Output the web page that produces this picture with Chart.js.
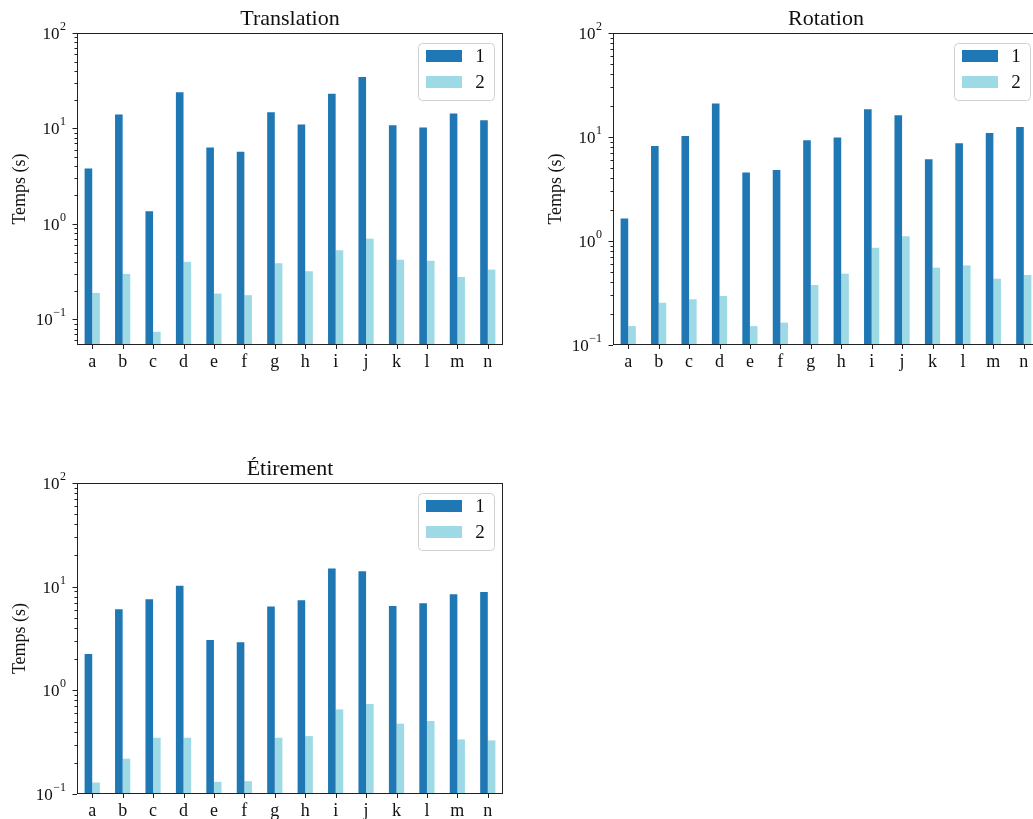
<!DOCTYPE html>
<html>
<head>
<meta charset="utf-8">
<script src="https://cdn.jsdelivr.net/npm/chart.js@4.4.1/dist/chart.umd.min.js"></script>
<style>
    html, body { margin: 0; padding: 0; background: #fff; overflow: hidden; }
    body { width: 1033px; height: 819px; position: relative; }
    .panel { position: absolute; width: 520px; height: 380px; }
</style>
</head>
<body>
<div class="panel" style="left:0;top:0"><canvas id="translationChart"></canvas></div>
<div class="panel" style="left:530px;top:0"><canvas id="rotationChart"></canvas></div>
<div class="panel" style="left:0;top:450px"><canvas id="etirementChart"></canvas></div>

<script>
// Data
const categories = ['a', 'b', 'c', 'd', 'e', 'f', 'g', 'h', 'i', 'j', 'k', 'l', 'm', 'n'];
const seriesLabels = ['1', '2'];
const seriesColors = ['#1f77b4', '#9edae5'];

const translation1 = [3.8, 14.0, 1.36, 24.0, 6.3, 5.7, 14.8, 11.0, 23.1, 34.5, 10.8, 10.2, 14.3, 12.2];
const translation2 = [0.189, 0.299, 0.074, 0.40, 0.186, 0.179, 0.387, 0.319, 0.53, 0.70, 0.42, 0.41, 0.278, 0.332];

const rotation1 = [1.65, 8.2, 10.2, 21.0, 4.55, 4.82, 9.3, 9.9, 18.5, 16.2, 6.1, 8.7, 10.9, 12.5];
const rotation2 = [0.152, 0.255, 0.275, 0.296, 0.152, 0.164, 0.377, 0.485, 0.86, 1.11, 0.554, 0.583, 0.434, 0.471];

const etirement1 = [2.24, 6.05, 7.56, 10.2, 3.06, 2.91, 6.43, 7.4, 14.96, 14.1, 6.52, 6.92, 8.45, 8.9];
const etirement2 = [0.129, 0.219, 0.349, 0.349, 0.131, 0.133, 0.349, 0.362, 0.655, 0.738, 0.477, 0.506, 0.336, 0.329];

// Log axis ticks: 10^exp
const yTickValues = [0.1, 1, 10, 100];
const yTickExponents = ['−1', '0', '1', '2'];
const minorSteps = [2, 3, 4, 5, 6, 7, 8, 9];

const serif = '"Liberation Serif", "Times New Roman", serif';
Chart.defaults.font.family = serif;
Chart.defaults.color = '#111';

// frame, tick marks, 10^n labels, title and in-plot legend (matplotlib look)
const framePlugin = {
    id: 'frame',
    afterDraw(chart, args, opts) {
        const { ctx, chartArea: a } = chart;
        const x = chart.scales.x, y = chart.scales.y;
        ctx.save();
        ctx.strokeStyle = '#222';
        ctx.lineWidth = 1;
        ctx.strokeRect(Math.round(a.left) + 0.5, Math.round(a.top) + 0.5,
            Math.round(a.width) - 1, Math.round(a.height) - 1);

        ctx.beginPath();
        y.ticks.forEach(t => {
            const py = Math.round(y.getPixelForValue(t.value)) + 0.5;
            const len = yTickValues.includes(t.value) ? 4.5 : 2.5;
            ctx.moveTo(a.left, py);
            ctx.lineTo(a.left - len, py);
        });
        categories.forEach((c, i) => {
            const px = Math.round(x.getPixelForValue(i)) + 0.5;
            ctx.moveTo(px, a.bottom);
            ctx.lineTo(px, a.bottom + 4);
        });
        ctx.stroke();

        // decade labels with raised exponent
        ctx.fillStyle = '#111';
        ctx.textBaseline = 'alphabetic';
        yTickValues.forEach((v, k) => {
            if (v < y.min || v > y.max) return;
            const py = y.getPixelForValue(v);
            const right = a.left - 11;
            ctx.font = '12px ' + serif;
            const we = ctx.measureText(yTickExponents[k]).width;
            ctx.textAlign = 'left';
            ctx.fillText(yTickExponents[k], right - we, py - 3);
            ctx.font = '17px ' + serif;
            ctx.textAlign = 'right';
            ctx.fillText('10', right - we - 0.5, py + 6);
        });

        // title centred over the axes
        ctx.font = '22px ' + serif;
        ctx.textAlign = 'center';
        ctx.textBaseline = 'middle';
        ctx.fillText(opts.text, (a.left + a.right) / 2, 19);

        // legend box, upper right
        const bx = a.right - 85, by = a.top + 10, bw = 76, bh = 57;
        ctx.fillStyle = 'rgba(255,255,255,0.8)';
        ctx.strokeStyle = '#d0d0d0';
        ctx.beginPath();
        ctx.roundRect(bx + 0.5, by + 0.5, bw, bh, 4);
        ctx.fill();
        ctx.stroke();
        ctx.font = '19px ' + serif;
        chart.data.datasets.forEach((ds, i) => {
            const sy = by + 7 + i * 26;
            ctx.fillStyle = ds.backgroundColor;
            ctx.fillRect(bx + 8, sy, 36, 12);
            ctx.fillStyle = '#111';
            ctx.fillText(ds.label, bx + 62, sy + 7);
        });
        ctx.restore();
    }
};

function makeChart(id, title, s1, s2, yMin, yWidth, yTitlePad, rightPad, xHeight) {
    const ctx = document.getElementById(id).getContext('2d');
    return new Chart(ctx, {
        type: 'bar',
        data: {
            labels: categories,
            datasets: [
                { label: seriesLabels[0], data: s1, backgroundColor: seriesColors[0], borderWidth: 0 },
                { label: seriesLabels[1], data: s2, backgroundColor: seriesColors[1], borderWidth: 0 }
            ]
        },
        options: {
            responsive: true,
            maintainAspectRatio: false,
            animation: false,
            categoryPercentage: 0.5,
            barPercentage: 1.0,
            layout: { padding: { left: 0, right: rightPad, top: 33, bottom: 0 } },
            plugins: {
                legend: { display: false },
                tooltip: { enabled: false },
                title: { display: false },
                frame: { text: title }
            },
            scales: {
                x: {
                    grid: { display: false, drawTicks: false },
                    border: { display: false },
                    ticks: { font: { size: 18 }, padding: 6, color: '#111' },
                    afterFit: scale => { scale.height = xHeight; }
                },
                y: {
                    type: 'logarithmic',
                    min: yMin,
                    max: 100,
                    bounds: 'data',
                    grid: { display: false, drawTicks: false },
                    border: { display: false },
                    title: {
                        display: true,
                        text: 'Temps (s)',
                        color: '#111',
                        font: { size: 18 },
                        padding: { top: yTitlePad, bottom: 0 }
                    },
                    ticks: { display: false, autoSkip: false },
                    afterBuildTicks: scale => {
                        const ticks = [];
                        [0.01].concat(yTickValues).forEach(d => {
                            if (d >= scale.min && d <= scale.max) ticks.push({ value: d, major: true });
                            if (d < 100) {
                                minorSteps.forEach(m => {
                                    const v = +(m * d).toPrecision(3);
                                    if (v >= scale.min && v <= scale.max) ticks.push({ value: v });
                                });
                            }
                        });
                        ticks.sort((p, q) => p.value - q.value);
                        scale.ticks = ticks;
                    },
                    afterFit: scale => { scale.width = yWidth; }
                }
            }
        },
        plugins: [framePlugin]
    });
}

makeChart('translationChart', 'Translation', translation1, translation2, 0.0538, 77, 9, 17, 35);
makeChart('rotationChart', 'Rotation', rotation1, rotation2, 0.1, 83, 15, 11, 35);
makeChart('etirementChart', 'Étirement', etirement1, etirement2, 0.1, 77, 9, 17, 36);
</script>
</body>
</html>
